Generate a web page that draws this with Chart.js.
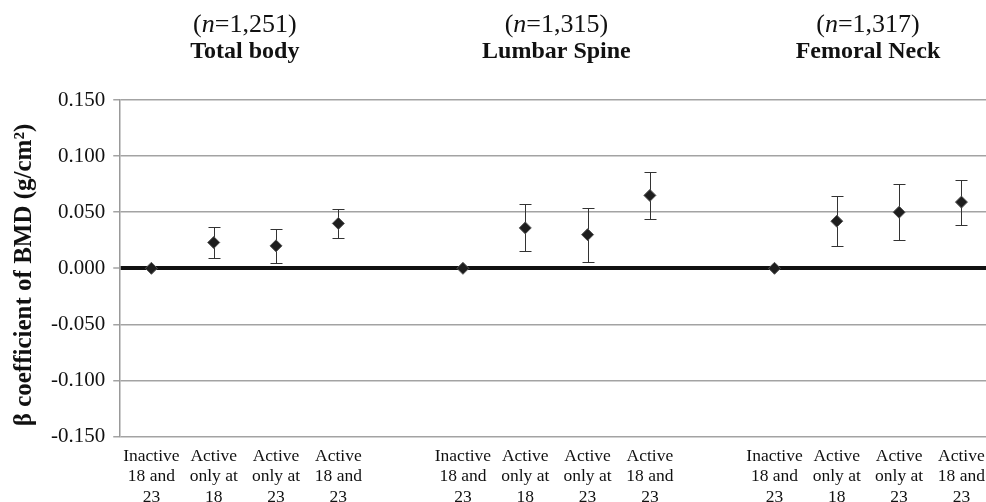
<!DOCTYPE html>
<html>
<head>
<meta charset="utf-8">
<script src="https://cdn.jsdelivr.net/npm/chart.js@4.4.1/dist/chart.umd.min.js"></script>
<style>
    html, body { margin: 0; padding: 0; background: #fff; overflow: hidden; }
    canvas { display: block; }
</style>
</head>
<body>
<canvas id="bmdChart" width="995" height="522"></canvas>
<script>
// categories of one group (repeated for each site)
const categories = [
    ['Inactive', '18 and', '23'],
    ['Active', 'only at', '18'],
    ['Active', 'only at', '23'],
    ['Active', '18 and', '23']
];
const groupNames = ['Total body', 'Lumbar Spine', 'Femoral Neck'];
const groupN = ['1,251', '1,315', '1,317'];
const yTitle = 'β coefficient of BMD (g/cm²)';

// beta coefficients and 95% CI per site
const totalBody = [0, 0.023, 0.020, 0.040];
const totalBodyLow = [null, 0.009, 0.005, 0.027];
const totalBodyHigh = [null, 0.037, 0.035, 0.053];

const lumbarSpine = [0, 0.036, 0.030, 0.065];
const lumbarSpineLow = [null, 0.015, 0.006, 0.044];
const lumbarSpineHigh = [null, 0.057, 0.054, 0.086];

const femoralNeck = [0, 0.042, 0.050, 0.059];
const femoralNeckLow = [null, 0.020, 0.025, 0.039];
const femoralNeckHigh = [null, 0.064, 0.075, 0.079];

const yTicks = [-0.150, -0.100, -0.050, 0.000, 0.050, 0.100, 0.150];

// 4 + gap + 4 + gap + 4 slots
const labels = [...categories, '', ...categories, '', ...categories];
const values = [...totalBody, null, ...lumbarSpine, null, ...femoralNeck];
const lows = [...totalBodyLow, null, ...lumbarSpineLow, null, ...femoralNeckLow];
const highs = [...totalBodyHigh, null, ...lumbarSpineHigh, null, ...femoralNeckHigh];

const serif = '"Liberation Serif", "Times New Roman", serif';

// error bars drawn under the markers
const errorBarPlugin = {
    id: 'errorBars',
    beforeDatasetsDraw(chart) {
        const { ctx, scales: { x, y } } = chart;
        ctx.save();
        ctx.strokeStyle = '#333';
        ctx.lineWidth = 1;
        lows.forEach((lo, i) => {
            if (lo === null || highs[i] === null) return;
            const px = Math.round(x.getPixelForValue(i)) + 0.5;
            const yLo = Math.round(y.getPixelForValue(lo)) + 0.5;
            const yHi = Math.round(y.getPixelForValue(highs[i])) + 0.5;
            ctx.beginPath();
            ctx.moveTo(px, yLo);
            ctx.lineTo(px, yHi);
            ctx.moveTo(px - 6, yLo);
            ctx.lineTo(px + 6, yLo);
            ctx.moveTo(px - 6, yHi);
            ctx.lineTo(px + 6, yHi);
            ctx.stroke();
        });
        ctx.restore();
    }
};

// site titles above each group + rotated y title
const titlesPlugin = {
    id: 'groupTitles',
    afterDraw(chart) {
        const { ctx, scales: { x } } = chart;
        ctx.save();
        ctx.fillStyle = '#111';
        ctx.textBaseline = 'alphabetic';
        groupNames.forEach((name, g) => {
            const start = g * 5;
            const cx = (x.getPixelForValue(start + 1) + x.getPixelForValue(start + 2)) / 2;

            const reg = '26px ' + serif;
            const ital = 'italic 26px ' + serif;
            const parts = [['(', reg], ['n', ital], ['=' + groupN[g] + ')', reg]];
            let w = 0;
            parts.forEach(p => { ctx.font = p[1]; w += ctx.measureText(p[0]).width; });
            let px = cx - w / 2;
            ctx.textAlign = 'left';
            parts.forEach(p => {
                ctx.font = p[1];
                ctx.fillText(p[0], px, 32);
                px += ctx.measureText(p[0]).width;
            });

            ctx.font = 'bold 24px ' + serif;
            ctx.textAlign = 'center';
            ctx.fillText(name, cx, 58);
        });

        ctx.translate(25, 275);
        ctx.rotate(-Math.PI / 2);
        ctx.font = 'bold 25px ' + serif;
        ctx.textAlign = 'center';
        ctx.textBaseline = 'middle';
        ctx.fillText(yTitle, 0, 0);
        ctx.restore();
    }
};

const ctx = document.getElementById('bmdChart').getContext('2d');
new Chart(ctx, {
    type: 'line',
    data: {
        labels: labels,
        datasets: [{
            data: values,
            showLine: false,
            pointStyle: 'rectRot',
            pointRadius: 6,
            pointBackgroundColor: '#1e1e1e',
            pointBorderColor: '#555',
            pointBorderWidth: 1
        }]
    },
    options: {
        responsive: false,
        animation: false,
        layout: { autoPadding: false, padding: { top: 100, left: 43, right: 0, bottom: 5 } },
        plugins: {
            legend: { display: false },
            tooltip: { enabled: false }
        },
        scales: {
            x: {
                type: 'category',
                offset: true,
                grid: { display: false, drawTicks: false },
                border: { display: false },
                ticks: {
                    autoSkip: false,
                    maxRotation: 0,
                    minRotation: 0,
                    padding: 10,
                    color: '#111',
                    font: { family: serif, size: 17.5, lineHeight: 1.15 }
                }
            },
            y: {
                min: -0.15,
                max: 0.15,
                afterBuildTicks(scale) {
                    scale.ticks = yTicks.map(v => ({ value: v }));
                },
                grid: {
                    color: c => (c.tick && Math.abs(c.tick.value) < 1e-9 ? '#111' : '#a3a3a3'),
                    lineWidth: c => (c.tick && Math.abs(c.tick.value) < 1e-9 ? 4 : 1.5),
                    tickColor: '#a3a3a3',
                    tickLength: 7,
                    tickWidth: 1.5
                },
                border: { display: true, color: '#999', width: 1.5 },
                ticks: {
                    padding: 8,
                    color: '#111',
                    font: { family: serif, size: 21 },
                    callback: v => v.toFixed(3)
                }
            }
        }
    },
    plugins: [errorBarPlugin, titlesPlugin]
});
</script>
</body>
</html>
